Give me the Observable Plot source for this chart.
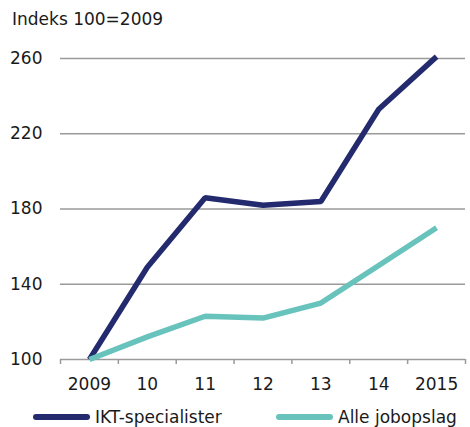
<!DOCTYPE html>
<html>
<head>
<meta charset="utf-8">
<script src="https://cdn.jsdelivr.net/npm/d3@7"></script>
<script src="https://cdn.jsdelivr.net/npm/@observablehq/plot@0.6"></script>
<style>
  html, body { margin: 0; padding: 0; background: #fff; }
  body { width: 470px; height: 427px; position: relative; overflow: hidden; font-family: "DejaVu Sans", sans-serif; color: #1a1a1a; }
  #title { position: absolute; left: 12px; top: 9px; font-size: 17px; line-height: 20px; }
  #chart { position: absolute; left: 0; top: 40px; }
  .leg { position: absolute; top: 406px; height: 22px; display: flex; align-items: center; font-size: 17px; }
  .leg svg { margin-right: 5px; }
</style>
</head>
<body>
<div id="title">Indeks 100=2009</div>
<div id="chart"></div>
<div class="leg" style="left:33px"><svg width="57" height="10"><line x1="3" y1="5" x2="54" y2="5" stroke="#232a6d" stroke-width="6" stroke-linecap="round"/></svg>IKT-specialister</div>
<div class="leg" style="left:276px"><svg width="57" height="10"><line x1="3" y1="5" x2="54" y2="5" stroke="#68c3bd" stroke-width="6" stroke-linecap="round"/></svg>Alle jobopslag</div>
<script>
const years = [2009, 2010, 2011, 2012, 2013, 2014, 2015];
const yearLabels = ["2009", "10", "11", "12", "13", "14", "2015"];
const ikt = [100, 149, 186, 182, 184, 233, 261];
const alle = [100, 112, 123, 122, 130, 150, 170];
const yTicks = [100, 140, 180, 220, 260];
const bounds = [2008.5, 2009.5, 2010.5, 2011.5, 2012.5, 2013.5, 2014.5, 2015.5];

const rows = [
  ...years.map((y, i) => ({year: y, value: ikt[i], series: "IKT-specialister"})),
  ...years.map((y, i) => ({year: y, value: alle[i], series: "Alle jobopslag"}))
];

const chart = Plot.plot({
  width: 470,
  height: 360,
  marginLeft: 60,
  marginRight: 5,
  marginTop: 18,
  marginBottom: 41,
  style: {fontFamily: "DejaVu Sans, sans-serif", fontSize: "17px", color: "#1a1a1a", background: "transparent"},
  x: {type: "linear", domain: [2008.5, 2015.5]},
  y: {domain: [100, 260]},
  color: {domain: ["IKT-specialister", "Alle jobopslag"], range: ["#232a6d", "#68c3bd"]},
  marks: [
    Plot.gridY({ticks: yTicks, stroke: "#9a9a9a", strokeOpacity: 1, strokeWidth: 1.5}),
    Plot.axisY({ticks: yTicks, tickSize: 0, tickPadding: 18, label: null, fontSize: 17}),
    Plot.axisX({ticks: bounds, tickSize: 5, text: null, label: null, stroke: "#9a9a9a", strokeWidth: 1.5}),
    Plot.axisX({ticks: years, tickSize: 0, tickPadding: 18, label: null, fontSize: 17,
      tickFormat: (d) => yearLabels[years.indexOf(d)]}),
    Plot.lineY(rows, {x: "year", y: "value", z: "series", stroke: "series", strokeWidth: 5.5,
      strokeLinejoin: "miter", strokeLinecap: "butt"})
  ]
});
document.getElementById("chart").appendChild(chart);
</script>
</body>
</html>
